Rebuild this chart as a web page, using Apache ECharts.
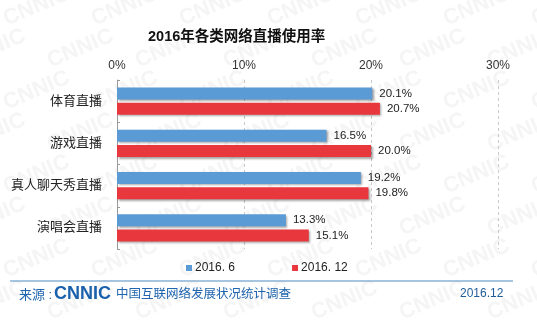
<!DOCTYPE html>
<html>
<head>
<meta charset="utf-8">
<script src="https://cdn.jsdelivr.net/npm/echarts@6/dist/echarts.min.js"></script>
<style>
html,body{margin:0;padding:0;background:#fff;}
#c{width:537px;height:322px;}
</style>
</head>
<body>
<div id="c"></div>
<script>
const titleText = '2016年各类网络直播使用率';
const categories = ['体育直播', '游戏直播', '真人聊天秀直播', '演唱会直播'];
const seriesNames = ['2016. 6', '2016. 12'];
const values2016Jun = [20.1, 16.5, 19.2, 13.3];
const values2016Dec = [20.7, 20.0, 19.8, 15.1];
const xTicks = [0, 10, 20, 30];
const footerSource = '来源 :';
const footerLogo = 'CNNIC';
const footerSurvey = '中国互联网络发展状况统计调查';
const footerDate = '2016.12';

const FONT = "'Liberation Sans', 'Noto Sans CJK SC', sans-serif";
const chart = echarts.init(document.getElementById('c'), null, {renderer: 'canvas'});

// decorative watermark
const marks = [];
for (let r = -1; r < 9; r++) {
  for (let c = -1; c < 8; c++) {
    marks.push({
      type: 'text', z: -10, silent: true,
      x: c * 88 + (r % 2) * 44, y: r * 42 + 10, rotation: 0.4,
      style: {text: 'CNNIC', fill: '#f5f5f5', font: 'bold 22px ' + FONT}
    });
  }
}

const barStyle = (color) => ({
  color: color,
  shadowColor: 'rgba(0,0,0,0.35)',
  shadowBlur: 2,
  shadowOffsetX: 1.5,
  shadowOffsetY: 1.5
});
const labelCfg = {
  show: true, position: 'right', distance: 7,
  color: '#222', fontSize: 11.5, fontFamily: FONT,
  formatter: p => p.value.toFixed(1) + '%'
};

chart.setOption({
  animation: false,
  backgroundColor: '#fff',
  title: {
    text: titleText, left: 148, top: 30, padding: 0,
    textStyle: {fontSize: 14.5, fontWeight: 'bold', color: '#111', fontFamily: FONT}
  },
  legend: {
    data: seriesNames, left: 181, top: 257,
    icon: 'rect', itemWidth: 6, itemHeight: 6, itemGap: 57,
    textStyle: {fontSize: 12, color: '#222', fontFamily: FONT, padding: [0, 0, 0, -2]}
  },
  grid: {left: 117, right: 39, top: 80, bottom: 73, containLabel: false},
  xAxis: {
    type: 'value', position: 'top', min: xTicks[0], max: xTicks[xTicks.length - 1], interval: 10,
    axisLine: {show: false}, axisTick: {show: false},
    axisLabel: {formatter: '{value}%', color: '#333', fontSize: 12, margin: 8, fontFamily: FONT},
    splitLine: {show: true, lineStyle: {type: [3, 3], color: '#c8c8c8'}}
  },
  yAxis: {
    type: 'category', data: categories, inverse: true,
    axisLine: {show: true, lineStyle: {color: '#999'}},
    axisTick: {show: true, inside: true, length: 3, lineStyle: {color: '#999'}},
    axisLabel: {color: '#222', fontSize: 13, margin: 15, fontFamily: FONT}
  },
  series: [
    {name: seriesNames[0], type: 'bar', data: values2016Jun, barWidth: 12, barGap: '28%',
     itemStyle: barStyle('#5b9bd5'), label: labelCfg},
    {name: seriesNames[1], type: 'bar', data: values2016Dec, barWidth: 12, barGap: '28%',
     itemStyle: barStyle('#e8373d'), label: labelCfg}
  ],
  graphic: marks.concat([
    {type: 'line', silent: true, shape: {x1: 10, y1: 281, x2: 513, y2: 281},
     style: {stroke: '#4f8bc0', lineWidth: 1}},
    {type: 'text', silent: true, x: 19, y: 295,
     style: {text: footerSource, fill: '#1e64ae', font: '13px ' + FONT, verticalAlign: 'middle'}},
    {type: 'text', silent: true, x: 54, y: 294,
     style: {text: footerLogo, fill: '#1a60ac', font: '900 18px ' + FONT, verticalAlign: 'middle'}},
    {type: 'text', silent: true, x: 116, y: 295,
     style: {text: footerSurvey, fill: '#1e64ae', font: '12.5px ' + FONT, verticalAlign: 'middle'}},
    {type: 'text', silent: true, x: 460, y: 294,
     style: {text: footerDate, fill: '#1e5c9c', font: '12px ' + FONT, verticalAlign: 'middle'}}
  ])
});
</script>
</body>
</html>
